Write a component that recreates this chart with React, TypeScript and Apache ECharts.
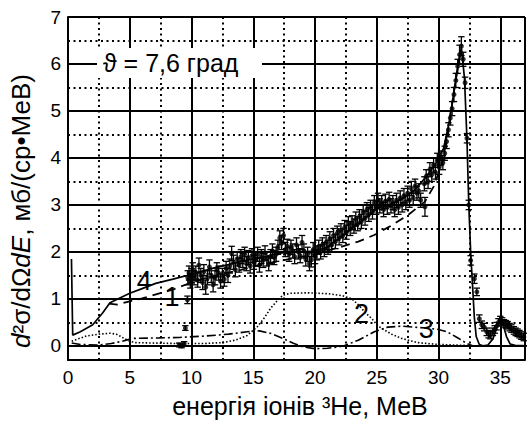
import React, { useEffect, useRef } from "react";
import * as echarts from "echarts";

// experimental points: [E (MeV), value, error]
const expData: number[][] = [
  [9.0, 0.02, 0.04], [9.2, 0.0, 0.04], [9.4, 0.05, 0.04], [9.5, 0.38, 0.05], [9.67, 0.98, 0.08],
  [9.7, 1.45, 0.15], [9.8, 1.55, 0.15], [9.9, 1.38, 0.15], [10.0, 1.5, 0.15], [10.1, 1.62, 0.15],
  [10.2, 1.45, 0.15], [10.35, 1.55, 0.15], [10.5, 1.4, 0.15], [10.6, 1.72, 0.15], [10.75, 1.5, 0.15],
  [10.9, 1.35, 0.15], [11.0, 1.58, 0.15], [11.15, 1.25, 0.15], [11.3, 1.45, 0.15], [11.45, 1.68, 0.15],
  [11.6, 1.5, 0.15], [11.75, 1.3, 0.15], [11.9, 1.45, 0.15], [12.05, 1.62, 0.15], [12.2, 1.55, 0.15],
  [12.35, 1.38, 0.15], [12.5, 1.5, 0.15], [12.65, 1.42, 0.15], [12.8, 1.65, 0.15], [12.95, 1.5, 0.15],
  [13.1, 1.7, 0.15], [13.25, 1.97, 0.15], [13.4, 1.78, 0.15], [13.55, 1.62, 0.15], [13.7, 1.85, 0.15],
  [13.85, 1.72, 0.15], [14.0, 1.9, 0.15], [14.15, 1.82, 0.15], [14.3, 1.95, 0.15], [14.45, 1.75, 0.15],
  [14.6, 1.88, 0.15], [14.75, 1.7, 0.15], [14.9, 1.92, 0.15], [15.05, 1.78, 0.15], [15.2, 1.85, 0.15],
  [15.35, 1.95, 0.15], [15.5, 1.72, 0.15], [15.65, 1.9, 0.15], [15.8, 1.82, 0.15], [15.95, 1.98, 0.15],
  [16.1, 1.85, 0.15], [16.25, 1.75, 0.15], [16.4, 1.9, 0.15], [16.55, 2.02, 0.15], [16.7, 1.88, 0.15],
  [16.85, 1.95, 0.15], [17.0, 2.1, 0.15], [17.15, 2.3, 0.15], [17.3, 2.2, 0.15], [17.45, 2.35, 0.15],
  [17.6, 2.05, 0.15], [17.75, 2.12, 0.15], [17.9, 1.95, 0.15], [18.05, 2.1, 0.15], [18.2, 2.02, 0.15],
  [18.35, 1.9, 0.15], [18.5, 2.15, 0.15], [18.65, 2.0, 0.15], [18.8, 1.92, 0.15], [18.95, 2.2, 0.15],
  [19.1, 2.02, 0.15], [19.25, 1.85, 0.15], [19.4, 1.95, 0.15], [19.55, 1.75, 0.15], [19.7, 1.83, 0.15],
  [19.85, 2.05, 0.15], [20.0, 1.9, 0.15], [20.15, 1.98, 0.15], [20.3, 2.1, 0.15], [20.45, 2.0, 0.15],
  [20.6, 2.15, 0.15], [20.75, 2.05, 0.15], [20.9, 2.2, 0.15], [21.05, 2.1, 0.15], [21.2, 2.28, 0.15],
  [21.35, 2.15, 0.15], [21.5, 2.35, 0.15], [21.65, 2.22, 0.15], [21.8, 2.4, 0.15], [21.95, 2.3, 0.15],
  [22.1, 2.45, 0.15], [22.25, 2.35, 0.15], [22.4, 2.52, 0.15], [22.55, 2.42, 0.15], [22.7, 2.6, 0.15],
  [22.85, 2.5, 0.15], [23.0, 2.62, 0.15], [23.15, 2.55, 0.15], [23.3, 2.7, 0.15], [23.45, 2.6, 0.15],
  [23.6, 2.75, 0.15], [23.75, 2.65, 0.15], [23.9, 2.85, 0.15], [24.05, 2.72, 0.15], [24.2, 2.9, 0.15],
  [24.35, 2.8, 0.15], [24.5, 2.95, 0.15], [24.65, 2.85, 0.15], [24.8, 3.05, 0.15], [24.95, 2.95, 0.15],
  [25.1, 3.1, 0.15], [25.25, 2.98, 0.15], [25.4, 3.05, 0.15], [25.55, 2.9, 0.15], [25.7, 3.08, 0.15],
  [25.85, 2.95, 0.15], [26.0, 3.12, 0.15], [26.15, 2.98, 0.15], [26.3, 3.05, 0.15], [26.45, 2.9, 0.15],
  [26.6, 3.1, 0.15], [26.75, 2.95, 0.15], [26.9, 3.15, 0.15], [27.05, 3.0, 0.15], [27.2, 3.2, 0.15],
  [27.35, 3.05, 0.15], [27.5, 3.25, 0.15], [27.65, 3.1, 0.15], [27.8, 3.35, 0.15], [27.95, 3.15, 0.15],
  [28.1, 3.4, 0.15], [28.25, 3.25, 0.15], [28.4, 3.3, 0.15], [28.55, 3.1, 0.15], [28.9, 2.96, 0.2],
  [28.85, 3.45, 0.15], [29.0, 3.6, 0.15], [29.15, 3.5, 0.15], [29.3, 3.75, 0.15], [29.45, 3.65, 0.15],
  [29.6, 3.85, 0.15], [29.75, 3.7, 0.15], [29.9, 3.95, 0.15], [30.05, 3.8, 0.15], [30.2, 4.0, 0.15],
  [30.35, 3.9, 0.15], [30.5, 4.1, 0.15], [30.65, 4.35, 0.15], [30.8, 4.6, 0.15], [30.95, 4.85, 0.15],
  [31.1, 5.05, 0.15], [31.25, 5.35, 0.15], [31.4, 5.65, 0.15], [31.55, 5.95, 0.15], [31.7, 6.2, 0.2],
  [31.85, 6.38, 0.2], [32.0, 6.1, 0.15], [32.15, 5.6, 0.12], [32.3, 4.42, 0.1], [32.45, 3.0, 0.1],
  [32.6, 1.82, 0.1], [32.9, 1.43, 0.1], [33.1, 1.15, 0.08], [33.3, 0.58, 0.08], [33.5, 0.45, 0.08],
  [33.7, 0.4, 0.08], [33.9, 0.3, 0.08], [34.05, 0.25, 0.08], [34.2, 0.23, 0.08], [34.4, 0.3, 0.08],
  [34.55, 0.35, 0.08], [34.7, 0.42, 0.08], [34.85, 0.5, 0.08], [35.0, 0.55, 0.08], [35.15, 0.52, 0.08],
  [35.3, 0.48, 0.08], [35.45, 0.46, 0.08], [35.6, 0.44, 0.08], [35.75, 0.4, 0.08], [35.9, 0.37, 0.08],
  [36.1, 0.33, 0.08], [36.25, 0.3, 0.08], [36.4, 0.28, 0.08], [36.55, 0.25, 0.08], [36.7, 0.22, 0.08],
  [36.9, 0.19, 0.08],
];

// curve 4 (solid)
const curve4: number[][] = [
  [0.28, 1.85], [0.38, 0.23], [1.0, 0.3], [2.0, 0.45], [2.8, 0.7], [3.4, 0.92], [4.2, 1.02], [5.0, 1.12],
  [6.0, 1.22], [7.1, 1.33], [8.5, 1.42], [9.8, 1.51], [11, 1.6], [12, 1.67], [13, 1.73], [14, 1.8],
  [15, 1.85], [16, 1.9], [17, 1.97], [18, 2.0], [19, 2.0], [20, 2.02], [21, 2.1], [22, 2.3], [23, 2.5],
  [24, 2.7], [25, 2.92], [26, 3.0], [27, 3.12], [28, 3.3], [29, 3.6], [29.8, 3.9], [30.4, 4.2],
  [30.9, 4.8], [31.3, 5.5], [31.6, 6.0], [31.85, 6.35], [32.1, 5.7], [32.3, 4.4], [32.45, 3.0],
  [32.6, 2.0], [32.75, 1.3], [32.9, 0.6], [33.05, 0.2], [33.3, 0.03], [33.6, 0.0], [34.0, 0.02],
  [34.4, 0.15], [34.8, 0.45], [35.0, 0.57], [35.2, 0.48], [35.5, 0.2], [35.8, 0.04], [36.2, 0.01],
  [37.2, 0.0],
];

// curve 1 (dashed)
const curve1: number[][] = [
  [3.3, 0.9], [4.0, 0.88], [5, 0.95], [6, 1.01], [7.4, 1.12], [8.5, 1.2], [10, 1.35], [12, 1.5],
  [14, 1.62], [16, 1.75], [18, 1.85], [20, 1.95], [22, 2.1], [23.5, 2.22], [24.8, 2.36], [26.1, 2.55],
  [27.5, 2.78], [28.9, 3.07], [29.6, 3.39], [30.3, 3.9], [30.9, 4.8], [31.3, 5.5], [31.6, 6.0], [31.85, 6.35],
];

// curve 2 (dotted)
const curve2: number[][] = [
  [0.3, 0.1], [0.8, 0.15], [1.5, 0.21], [2.5, 0.25], [3.4, 0.27], [3.9, 0.25], [4.2, 0.21], [4.6, 0.15],
  [5.0, 0.1], [5.5, 0.07], [7, 0.06], [9, 0.05], [11, 0.05], [12.5, 0.07], [13.5, 0.12], [14.5, 0.22],
  [15.3, 0.4], [15.9, 0.6], [16.4, 0.8], [16.9, 0.95], [17.4, 1.08], [18, 1.12], [19.5, 1.13],
  [21.1, 1.11], [22.2, 1.07], [23, 1.0], [23.6, 0.85], [24.1, 0.7], [24.6, 0.58], [25.0, 0.45],
  [25.4, 0.37], [26.2, 0.25], [27, 0.16], [28.3, 0.07], [30, 0.03], [32.3, 0.01], [33, 0.0],
];

// curve 3 (dash-dot)
const curve3: number[][] = [
  [0.3, 0.06], [1, 0.03], [2.5, 0.02], [3.5, 0.05], [4.4, 0.1], [5.25, 0.16], [7.4, 0.17], [9, 0.18],
  [11.1, 0.21], [13, 0.25], [14.5, 0.3], [15.5, 0.32], [16.5, 0.26], [17.4, 0.16], [18.2, 0.06],
  [19, -0.02], [20, -0.06], [21, -0.05], [21.9, -0.02], [22.4, 0.01], [23.5, 0.12], [24.8, 0.3],
  [25.9, 0.4], [27, 0.42], [28, 0.4], [29, 0.38], [30, 0.35], [30.7, 0.3], [31.5, 0.18], [32.3, 0.05],
  [32.8, 0.0],
];

const curveLabels = [
  { name: "4", value: [6.18, 1.38] },
  { name: "1", value: [8.43, 1.04] },
  { name: "2", value: [23.76, 0.68] },
  { name: "3", value: [29.0, 0.36] },
];

const xMinor = [2.5, 7.5, 12.5, 17.5, 22.5, 27.5, 32.5];
const yMinor = [0.5, 1.5, 2.5, 3.5, 4.5, 5.5, 6.5];

const FONT = "'Liberation Sans', Arial, 'DejaVu Sans', sans-serif";
const INK = "#000";

export default function App() {
  const ref = useRef<HTMLDivElement>(null);
  useEffect(() => {
    if (!ref.current) return;
    const chart = echarts.init(ref.current, null, { renderer: "svg" });
    const errData = expData.map(([e, v, err]) => [e, v - err, v + err]);
    const gridLine = { color: "#000", width: 2, opacity: 1, type: "solid" };
    chart.setOption({
      animation: false,
      backgroundColor: "#fff",
      grid: { left: 68, top: 17, right: -1, bottom: 65, containLabel: false },
      xAxis: {
        type: "value",
        min: 0,
        max: 37,
        interval: 5,
        axisLine: { show: true, onZero: false, lineStyle: gridLine },
        axisTick: { show: false },
        axisLabel: {
          margin: 8,
          fontSize: 19,
          color: INK,
          fontFamily: FONT,
          formatter: (v: number) => (v % 5 === 0 && v <= 35 ? String(v) : ""),
        },
        splitLine: { show: true, lineStyle: gridLine },
      },
      yAxis: {
        type: "value",
        min: -0.3,
        max: 7,
        splitNumber: 7,
        minInterval: 1,
        maxInterval: 1,
        axisLine: { show: true, onZero: false, lineStyle: gridLine },
        axisTick: { show: false },
        axisLabel: {
          margin: 7,
          fontSize: 19,
          color: INK,
          fontFamily: FONT,
          formatter: (v: number) => (Number.isInteger(v) && v >= 0 ? String(v) : ""),
        },
        splitLine: { show: true, lineStyle: gridLine },
      },
      graphic: [
        {
          type: "text",
          x: 21,
          y: 211,
          rotation: Math.PI / 2,
          style: {
            text: "{i|d}²σ/dΩ{i|dE}, мб/(ср•МеВ)",
            font: `26px ${FONT}`,
            fill: INK,
            align: "center",
            verticalAlign: "middle",
            rich: {
              i: { fontStyle: "italic", fontSize: 26, fontFamily: FONT, fill: INK },
            },
          },
        },
        {
          type: "text",
          x: 300,
          y: 406,
          style: {
            text: "енергія іонів ³He, МеВ",
            font: `25px ${FONT}`,
            fill: INK,
            align: "center",
            verticalAlign: "middle",
          },
        },
        {
          type: "rect",
          z: 100,
          shape: { x: 97, y: 48, width: 165, height: 30 },
          style: { fill: "#fff" },
        },
        {
          type: "text",
          z: 101,
          x: 103,
          y: 63,
          style: {
            text: "ϑ = 7,6 град",
            font: `25px ${FONT}`,
            fill: INK,
            align: "left",
            verticalAlign: "middle",
          },
        },
      ],
      series: [
        {
          type: "line",
          data: curve2,
          symbol: "none",
          z: 3,
          lineStyle: { color: INK, width: 1.6, type: [1.5, 2] },
          markLine: {
            silent: true,
            symbol: "none",
            z: 1,
            label: { show: false },
            emphasis: { disabled: true },
            lineStyle: { color: "#000", width: 2, type: [2, 3.5], opacity: 1 },
            data: [
              ...yMinor.map((v) => ({ yAxis: v })),
              ...xMinor.map((v) => ({ xAxis: v })),
            ],
          },
        },
        {
          type: "line",
          data: curve3,
          symbol: "none",
          z: 3,
          lineStyle: { color: INK, width: 1.6, type: [9, 3, 2, 3] },
        },
        {
          type: "line",
          data: curve1,
          symbol: "none",
          z: 3,
          lineStyle: { color: INK, width: 1.8, type: [9, 6] },
        },
        {
          type: "custom",
          z: 4,
          data: errData,
          encode: { x: 0, y: [1, 2] },
          renderItem: (params: any, api: any) => {
            const x = api.value(0);
            const lo = api.coord([x, api.value(1)]);
            const hi = api.coord([x, api.value(2)]);
            const w = 3.2;
            const st = { stroke: INK, lineWidth: 1.3 };
            return {
              type: "group",
              children: [
                { type: "line", shape: { x1: lo[0], y1: lo[1], x2: hi[0], y2: hi[1] }, style: st },
                { type: "line", shape: { x1: lo[0] - w, y1: lo[1], x2: lo[0] + w, y2: lo[1] }, style: st },
                { type: "line", shape: { x1: hi[0] - w, y1: hi[1], x2: hi[0] + w, y2: hi[1] }, style: st },
              ],
            };
          },
        },
        {
          type: "scatter",
          z: 5,
          data: expData.map(([e, v]) => [e, v]),
          symbol: "circle",
          symbolSize: 5,
          itemStyle: { color: INK },
        },
        {
          type: "line",
          data: curve4,
          symbol: "none",
          z: 6,
          lineStyle: { color: INK, width: 1.7 },
        },
        {
          type: "scatter",
          z: 7,
          data: curveLabels,
          symbolSize: 0,
          itemStyle: { color: INK },
          label: {
            show: true,
            position: "inside",
            formatter: "{b}",
            fontSize: 27,
            fontFamily: FONT,
            color: INK,
            textBorderWidth: 0,
            opacity: 1,
          },
        },
      ],
    });
    return () => chart.dispose();
  }, []);
  return (
    <div
      ref={ref}
      style={{ position: "fixed", left: 0, top: 0, width: 528, height: 425, background: "#fff" }}
    />
  );
}
